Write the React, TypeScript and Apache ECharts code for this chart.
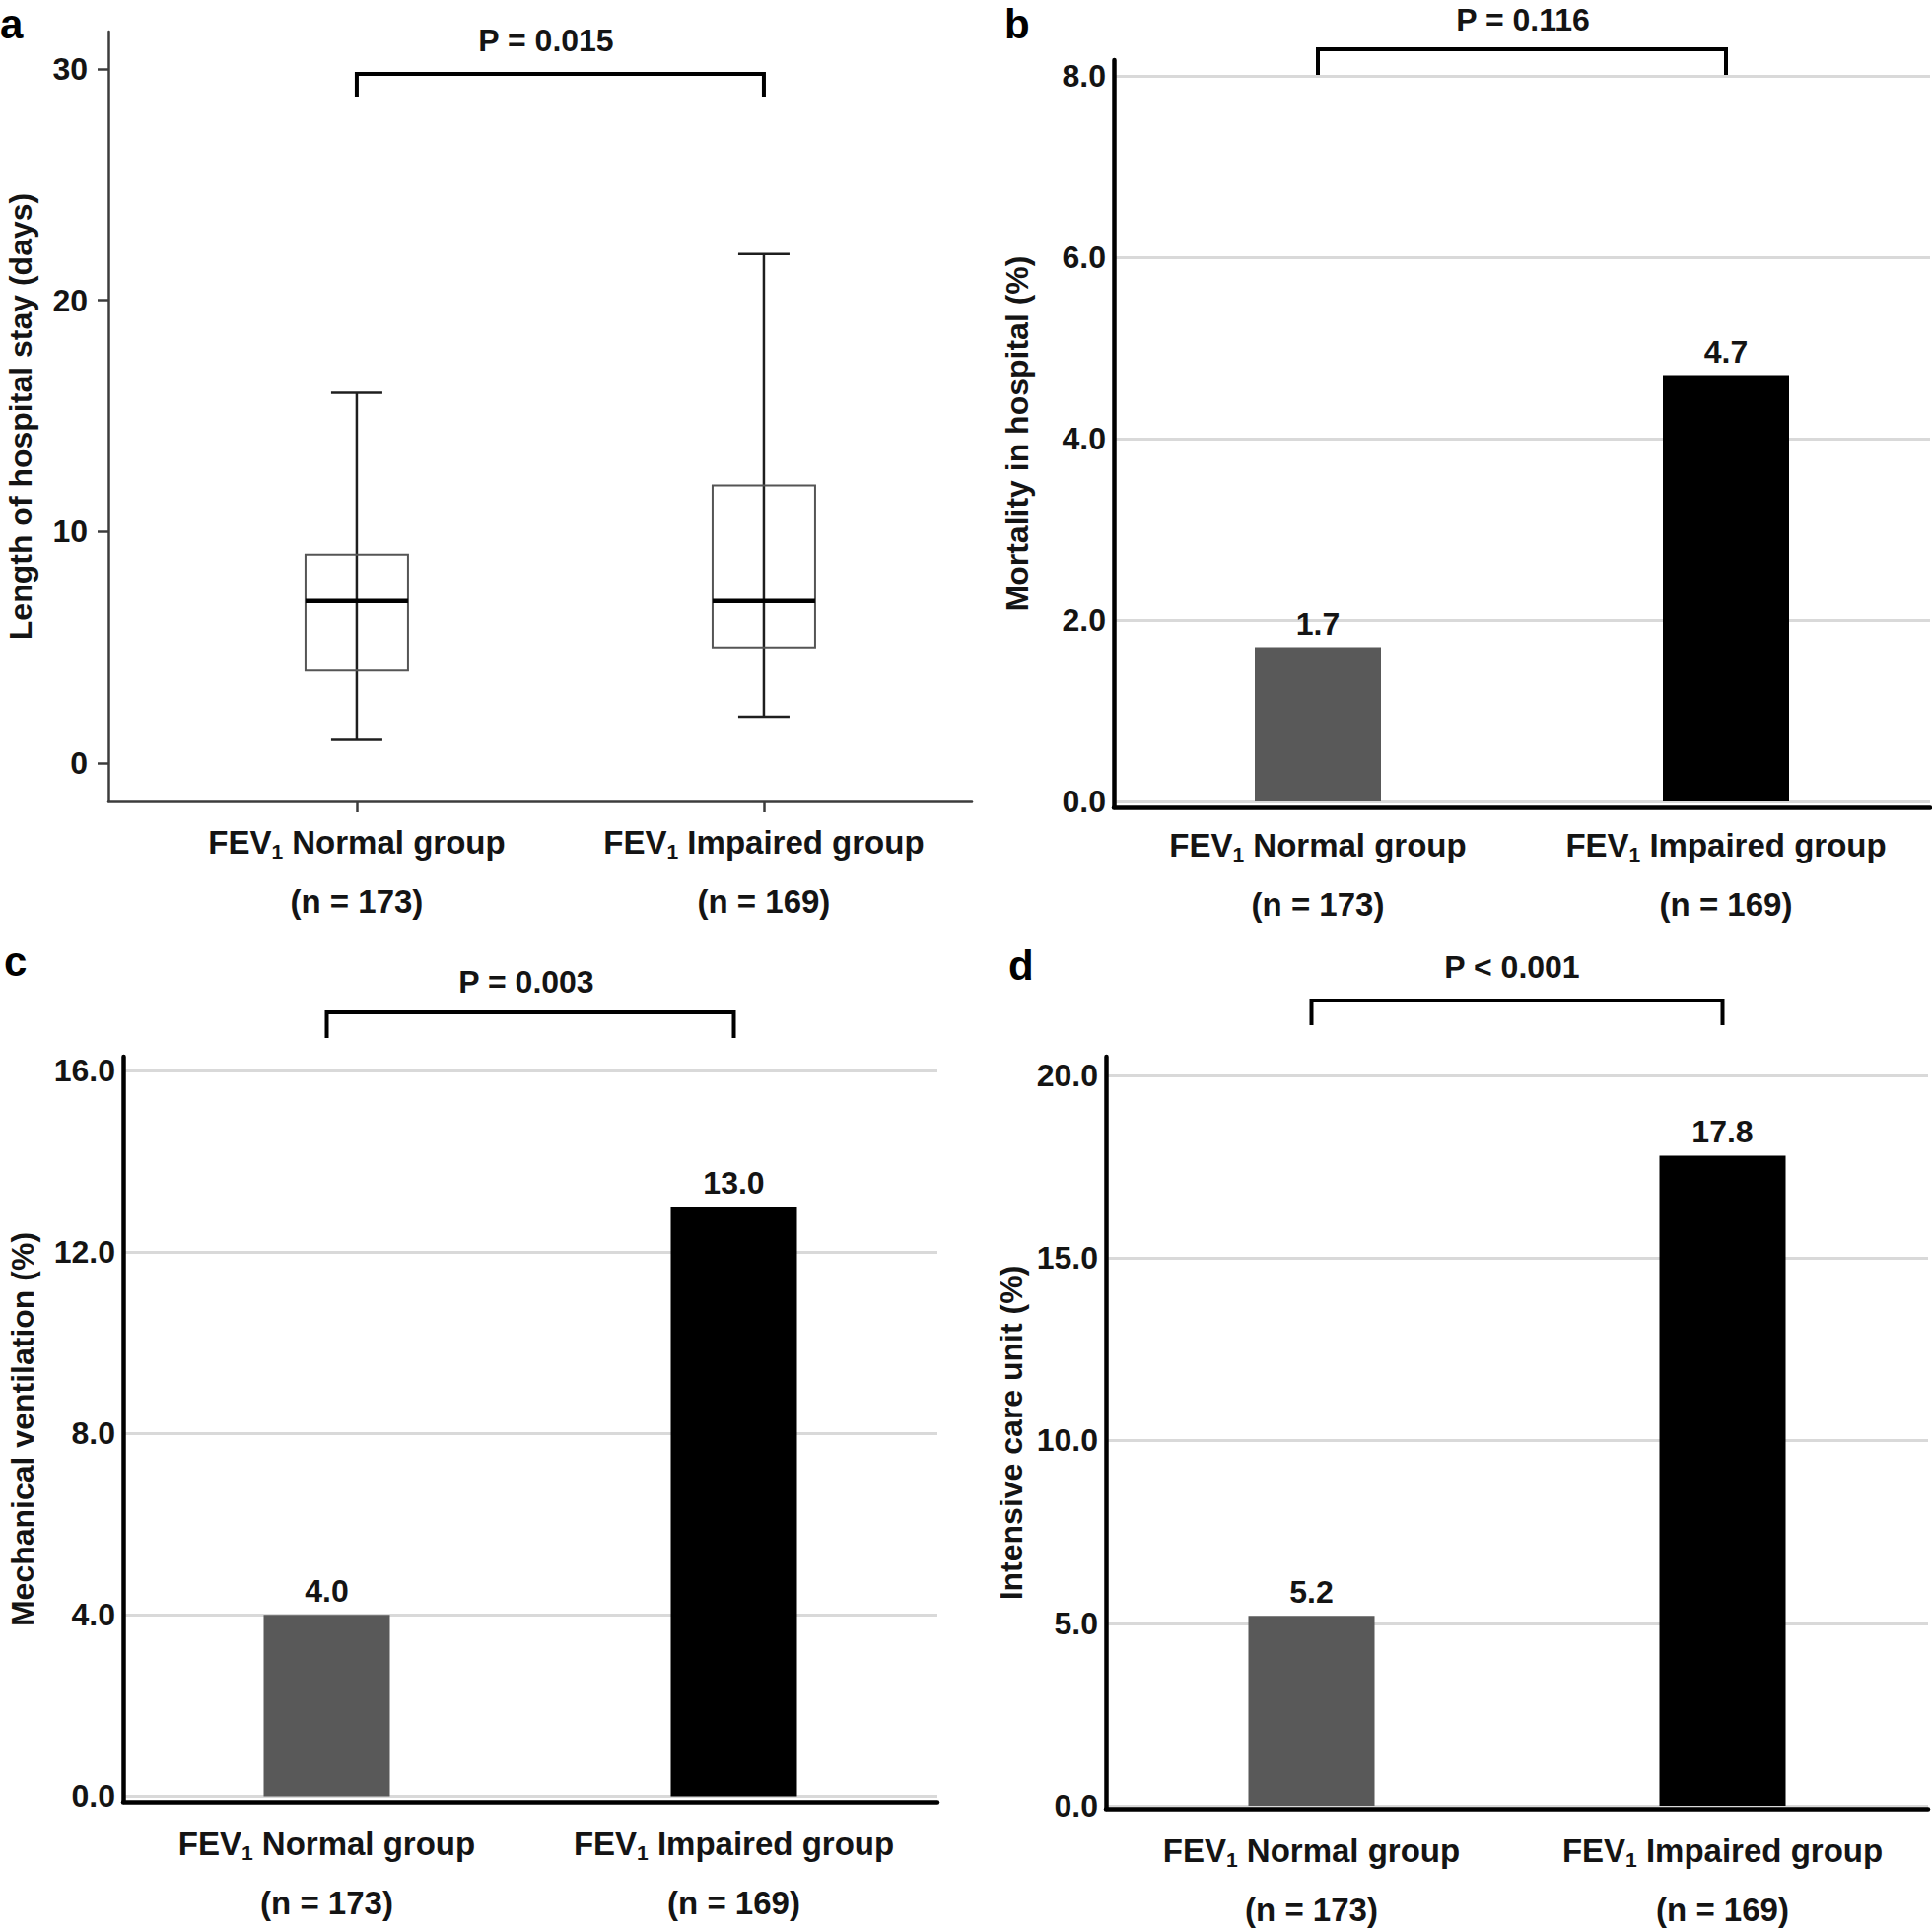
import React, { useEffect, useRef } from 'react';
import * as echarts from 'echarts';

// ---------- data ----------
const groups = ['FEV1 Normal group', 'FEV1 Impaired group'];
const groupSizes = ['173', '169'];
// box plot: [lower whisker, Q1, median, Q3, upper whisker]
const stayNormal = [1, 4, 7, 9, 16];
const stayImpaired = [2, 5, 7, 12, 22];
const mortality = [1.7, 4.7];
const ventilation = [4.0, 13.0];
const icu = [5.2, 17.8];
const stayTicks = [0, 10, 20, 30];
const mortalityTicks = [0, 2, 4, 6, 8];
const ventilationTicks = [0, 4, 8, 12, 16];
const icuTicks = [0, 5, 10, 15, 20];
const pValues = ['P = 0.015', 'P = 0.116', 'P = 0.003', 'P < 0.001'];
const panelLetters = ['a', 'b', 'c', 'd'];
const yTitles = [
  'Length of hospital stay (days)',
  'Mortality in hospital (%)',
  'Mechanical ventilation (%)',
  'Intensive care unit (%)',
];

// ---------- layout / style ----------
const FONT = '"Liberation Sans", Arial, Helvetica, sans-serif';
const TEXT = '#141414';
const barColors = ['#595959', '#000000'];
const grids = [
  { left: 110, top: 32, width: 876, height: 781 },
  { left: 1130, top: 61, width: 828, height: 758 },
  { left: 125, top: 1072, width: 826, height: 756 },
  { left: 1122, top: 1072, width: 834, height: 763 },
];
const yRanges = [
  [-1.66, 31.62],
  [-0.065, 8.174],
  [-0.12, 16.3],
  [-0.08, 20.51],
];
const nameGaps = [71, 80, 84, 78];
const xLabelMargins = [11, 8, 12, 12];
const bracketY = [
  [75, 98],
  [50, 77],
  [1027, 1053],
  [1015, 1040],
];
const pTextPos = [
  [554, 41],
  [1545, 20],
  [534, 996],
  [1534, 981],
];
const letterPos = [
  [0, 24],
  [1019, 24],
  [4, 975],
  [1023, 979],
];

const xLabelFormatter = (value: any) => {
  const idx = typeof value === 'number' ? Math.round(value) : groups.indexOf(value);
  const name = groups[idx];
  return `{t|FEV}{s|1}{t|${name.slice(4)}}\n{t|(n = ${groupSizes[idx]})}`;
};

const richLabel = {
  t: { fontSize: 33, fontWeight: 'bold', fontFamily: FONT, color: TEXT, lineHeight: 60 },
  s: {
    fontSize: 21,
    fontWeight: 'bold',
    fontFamily: FONT,
    color: TEXT,
    lineHeight: 21,
    padding: [18, 0, 0, 0],
  },
};

const nameStyle = { fontSize: 32, fontWeight: 'bold', fontFamily: FONT, color: TEXT, lineHeight: 36 };
const tickLabelStyle = { fontSize: 32, fontWeight: 'bold', fontFamily: FONT, color: TEXT };

function buildOption() {
  const barPanels = [
    { values: mortality, ticks: mortalityTicks },
    { values: ventilation, ticks: ventilationTicks },
    { values: icu, ticks: icuTicks },
  ];

  const xAxes: any[] = [
    {
      gridIndex: 0,
      type: 'value',
      min: -0.61,
      max: 1.511,
      axisLine: { show: true, onZero: false, lineStyle: { color: '#3c3c3c', width: 2.5 } },
      axisTick: { show: true, customValues: [0, 1], length: 11, lineStyle: { color: '#3c3c3c', width: 2.5 } },
      axisLabel: {
        customValues: [0, 1],
        formatter: xLabelFormatter,
        rich: richLabel,
        margin: xLabelMargins[0],
      },
      splitLine: { show: false },
    },
  ];
  const yAxes: any[] = [
    {
      gridIndex: 0,
      type: 'value',
      min: yRanges[0][0],
      max: yRanges[0][1],
      axisLine: { show: true, onZero: false, lineStyle: { color: '#3c3c3c', width: 2.5 } },
      axisTick: { show: true, customValues: stayTicks, length: 11, lineStyle: { color: '#3c3c3c', width: 2.5 } },
      axisLabel: { customValues: stayTicks, formatter: (v: number) => String(v), margin: 21, ...tickLabelStyle },
      splitLine: { show: false },
      name: yTitles[0],
      nameLocation: 'middle',
      nameGap: nameGaps[0],
      nameTextStyle: nameStyle,
    },
  ];

  barPanels.forEach((p, k) => {
    const i = k + 1;
    xAxes.push({
      gridIndex: i,
      type: 'category',
      data: groups,
      z: 5,
      axisLine: { show: true, onZero: false, lineStyle: { color: '#000', width: 4.5 } },
      axisTick: { show: false },
      axisLabel: { interval: 0, formatter: xLabelFormatter, rich: richLabel, margin: xLabelMargins[i] },
      splitLine: { show: false },
    });
    yAxes.push({
      gridIndex: i,
      type: 'value',
      min: yRanges[i][0],
      max: yRanges[i][1],
      z: 5,
      axisLine: { show: true, onZero: false, lineStyle: { color: '#000', width: 4.5 } },
      axisTick: { show: false, customValues: p.ticks },
      axisLabel: { customValues: p.ticks, formatter: (v: number) => v.toFixed(1), margin: 8, ...tickLabelStyle },
      splitLine: { show: false },
      name: yTitles[i],
      nameLocation: 'middle',
      nameGap: nameGaps[i],
      nameTextStyle: nameStyle,
    });
  });

  const series: any[] = [
    {
      type: 'custom',
      xAxisIndex: 0,
      yAxisIndex: 0,
      encode: { x: 0, y: [1, 2, 3, 4, 5] },
      data: [
        [0, ...stayNormal],
        [1, ...stayImpaired],
      ],
      renderItem: (params: any, api: any) => {
        const x = api.value(0);
        const low = api.coord([x, api.value(1)]);
        const cx = low[0];
        const yLow = low[1];
        const yQ1 = api.coord([x, api.value(2)])[1];
        const yMed = api.coord([x, api.value(3)])[1];
        const yQ3 = api.coord([x, api.value(4)])[1];
        const yHigh = api.coord([x, api.value(5)])[1];
        const bw = 104;
        const cw = 52;
        const wStyle = { stroke: '#1e1e1e', lineWidth: 2.5 };
        return {
          type: 'group',
          children: [
            { type: 'line', shape: { x1: cx, y1: yLow, x2: cx, y2: yHigh }, style: wStyle },
            { type: 'line', shape: { x1: cx - cw / 2, y1: yLow, x2: cx + cw / 2, y2: yLow }, style: wStyle },
            { type: 'line', shape: { x1: cx - cw / 2, y1: yHigh, x2: cx + cw / 2, y2: yHigh }, style: wStyle },
            {
              type: 'rect',
              shape: { x: cx - bw / 2, y: yQ3, width: bw, height: yQ1 - yQ3 },
              style: { fill: 'none', stroke: '#555', lineWidth: 2 },
            },
            {
              type: 'line',
              shape: { x1: cx - bw / 2, y1: yMed, x2: cx + bw / 2, y2: yMed },
              style: { stroke: '#000', lineWidth: 4.5 },
            },
          ],
        };
      },
    },
  ];

  barPanels.forEach((p, k) => {
    const i = k + 1;
    series.push({
      type: 'bar',
      xAxisIndex: i,
      yAxisIndex: i,
      barWidth: 128,
      z: 2,
      emphasis: { disabled: true },
      data: p.values.map((v, j) => ({ value: v, itemStyle: { color: barColors[j] } })),
      label: {
        show: true,
        position: 'top',
        distance: 8,
        formatter: (q: any) => Number(q.value).toFixed(1),
        ...tickLabelStyle,
      },
      markLine: {
        silent: true,
        symbol: 'none',
        z: 1,
        animation: false,
        label: { show: false },
        lineStyle: { color: '#d9d9d9', width: 3, type: 'solid' },
        data: p.ticks.map((t) => ({ yAxis: t })),
      },
    });
  });

  return {
    animation: false,
    backgroundColor: '#ffffff',
    grid: grids.map((g) => ({ ...g, containLabel: false })),
    xAxis: xAxes,
    yAxis: yAxes,
    series,
  };
}

export default function App() {
  const ref = useRef<HTMLDivElement>(null);
  useEffect(() => {
    document.body.style.margin = '0';
    const chart = echarts.init(ref.current!, null, { renderer: 'svg' });
    chart.setOption(buildOption());

    const graphics: any[] = [];
    for (let i = 0; i < 4; i++) {
      const finder = { xAxisIndex: i, yAxisIndex: i };
      const x1 = (chart.convertToPixel(finder as any, [0, 0]) as number[])[0];
      const x2 = (chart.convertToPixel(finder as any, [1, 0]) as number[])[0];
      const [yt, yb] = bracketY[i];
      graphics.push({
        type: 'polyline',
        shape: { points: [[x1, yb], [x1, yt], [x2, yt], [x2, yb]] },
        style: { stroke: '#000', lineWidth: 4, fill: 'none' },
      });
      graphics.push({
        type: 'text',
        x: pTextPos[i][0],
        y: pTextPos[i][1],
        style: {
          text: pValues[i],
          fill: TEXT,
          fontSize: 32,
          fontWeight: 'bold',
          fontFamily: FONT,
          align: 'center',
          verticalAlign: 'middle',
          textAlign: 'center',
          textVerticalAlign: 'middle',
        },
      });
      graphics.push({
        type: 'text',
        x: letterPos[i][0],
        y: letterPos[i][1],
        style: {
          text: panelLetters[i],
          fill: '#000',
          fontSize: 42,
          fontWeight: 'bold',
          fontFamily: FONT,
          align: 'left',
          verticalAlign: 'middle',
          textAlign: 'left',
          textVerticalAlign: 'middle',
        },
      });
    }
    chart.setOption({ graphic: graphics });

    return () => chart.dispose();
  }, []);
  return (
    <div
      ref={ref}
      style={{ position: 'absolute', left: 0, top: 0, width: 1960, height: 1959, background: '#fff' }}
    />
  );
}
